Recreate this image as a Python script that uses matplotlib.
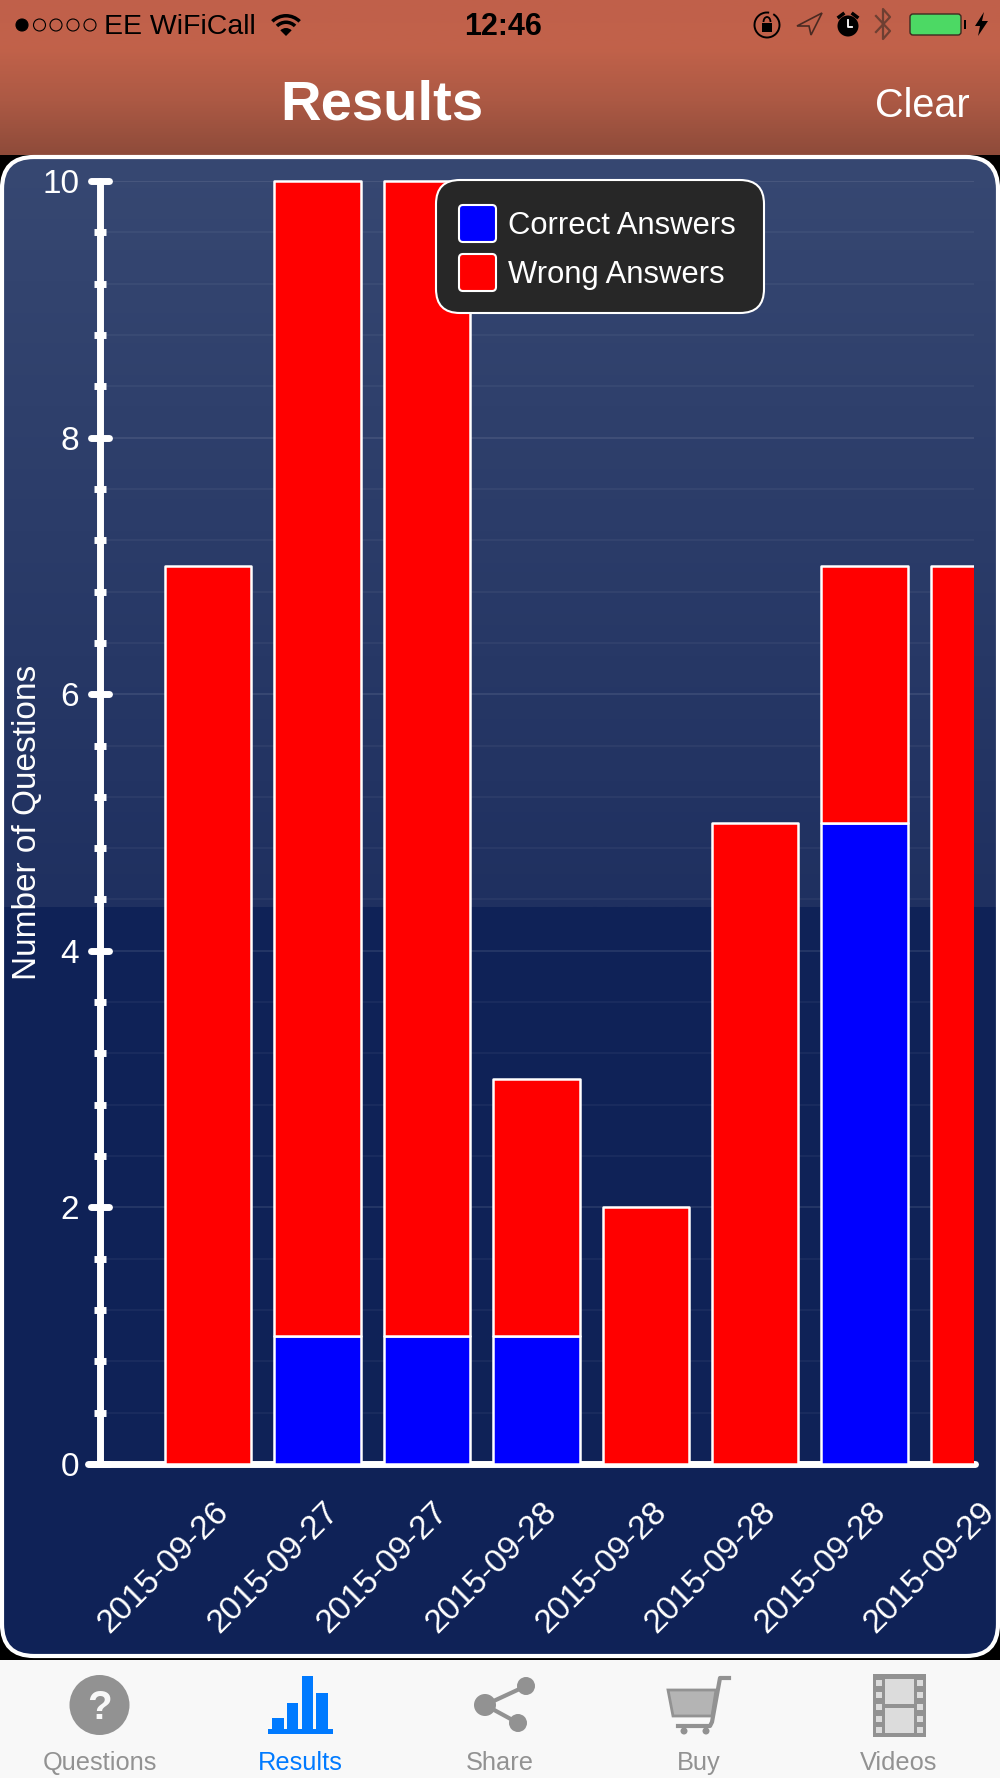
#!/usr/bin/env python3

import matplotlib
matplotlib.use('Agg')
import matplotlib.pyplot as plt
import numpy as np
from matplotlib.colors import LinearSegmentedColormap
from matplotlib.markers import MarkerStyle
from matplotlib.patches import Circle, Ellipse, FancyBboxPatch, Polygon, Rectangle, Wedge, Arc
from matplotlib.transforms import Bbox, ScaledTranslation, TransformedBbox

plt.rcParams['font.family'] = ['Liberation Sans', 'DejaVu Sans']

# Chart data
dates = ['2015-09-26', '2015-09-27', '2015-09-27', '2015-09-28',
         '2015-09-28', '2015-09-28', '2015-09-28', '2015-09-29']
correct = [0, 1, 1, 1, 0, 0, 5, 0]
wrong = [7, 9, 9, 2, 2, 5, 2, 7]
major_ticks = [0, 2, 4, 6, 8, 10]
minor_ticks = [0.4, 0.8, 1.2, 1.6, 2.4, 2.8, 3.2, 3.6, 4.4, 4.8, 5.2, 5.6,
               6.4, 6.8, 7.2, 7.6, 8.4, 8.8, 9.2, 9.6]
tab_labels = ['Questions', 'Results', 'Share', 'Buy', 'Videos']

W, H = 1000, 1778
GREY = '#929292'
BLUE_TAB = '#007aff'

fig = plt.figure(figsize=(W / 100, H / 100), dpi=100, facecolor='black')

# Full-figure axes in pixel coordinates for the phone screen around the chart
bg = fig.add_axes([0, 0, 1, 1])
bg.set_xlim(0, W)
bg.set_ylim(H, 0)
bg.axis('off')

# Navigation bar
nav_cmap = LinearSegmentedColormap.from_list(
    'nav', [(0, '#c0604a'), (0.3, '#c2624a'), (0.65, '#ac5944'), (1, '#8e4b3a')])
bg.imshow(np.linspace(0, 1, 256).reshape(-1, 1), cmap=nav_cmap, aspect='auto',
          extent=(0, W, 155, 0), zorder=1)

# Rounded chart panel, lighter gradient above the flat lower part
panel = FancyBboxPatch((2, 157), W - 4, 1499, boxstyle='round,pad=0,rounding_size=32',
                       facecolor='none', edgecolor='white', linewidth=3, zorder=3)
bg.add_patch(panel)
panel_cmap = LinearSegmentedColormap.from_list('panel', ['#374872', '#1f3060'])
grad = bg.imshow(np.linspace(0, 1, 256).reshape(-1, 1), cmap=panel_cmap, aspect='auto',
                 extent=(0, W, 907, 155), zorder=2)
grad.set_clip_path(panel)
flat = bg.add_patch(Rectangle((0, 907), W, 755, facecolor='#0f2257', edgecolor='none', zorder=2))
flat.set_clip_path(panel)
bg.set_xlim(0, W)
bg.set_ylim(H, 0)

# Tab bar
bg.add_patch(Rectangle((0, 1660), W, 118, facecolor='#f8f8f8', edgecolor='none', zorder=2))

# Status bar
for i, x in enumerate([22, 39.5, 56, 73, 90]):
    bg.add_patch(Circle((x, 25), 6, facecolor='black' if i == 0 else 'none',
                        edgecolor='black', linewidth=0.8, zorder=4))
bg.text(104, 27, 'EE WiFiCall', color='black', fontsize=20.5, va='center', ha='left', zorder=4)
bg.text(503, 27, '12:46', color='black', fontsize=22, fontweight='bold', va='center', ha='center', zorder=4)

# Wifi symbol
for r in [21, 14.5]:
    bg.add_patch(Wedge((286, 35), r, 225, 315, width=3.5, facecolor='black', zorder=4))
bg.add_patch(Wedge((286, 36), 8, 225, 315, facecolor='black', zorder=4))

# Rotation lock, location arrow, alarm, bluetooth, battery, bolt
bg.add_patch(Arc((767, 25), 25, 25, theta1=-60, theta2=280, color='black', linewidth=1.4, zorder=4))
bg.add_patch(Rectangle((762, 23), 10, 9, facecolor='black', zorder=4))
bg.add_patch(Arc((767, 22), 7, 10, theta1=180, theta2=360, color='black', linewidth=1.3, zorder=4))
bg.add_patch(Polygon([[822, 13], [797, 26], [809, 26], [811, 35]], closed=True, facecolor='none',
                     edgecolor='#4a2a22', linewidth=1.2, zorder=4))
bg.add_patch(Circle((848, 26), 10.5, facecolor='black', zorder=4))
bg.plot([848, 848, 852], [20, 27, 27], color='white', linewidth=1.3, zorder=5)
bg.plot([839, 843], [17, 14], color='black', linewidth=2.5, zorder=4)
bg.plot([853, 857], [14, 17], color='black', linewidth=2.5, zorder=4)
bg.plot([876, 890, 883, 883, 890, 876], [16, 31, 39, 9, 17, 32], color='#6e3f32', linewidth=1.6, zorder=4)
bg.add_patch(FancyBboxPatch((910, 14), 51, 21, boxstyle='round,pad=0,rounding_size=3',
                            facecolor='#4cd964', edgecolor='#3c2a20', linewidth=1, zorder=4))
bg.add_patch(Rectangle((964, 20), 2, 9, facecolor='black', zorder=4))
bg.add_patch(Polygon([[984, 12], [975, 26], [980, 26], [978, 36], [988, 21], [982, 21]],
                     closed=True, facecolor='black', zorder=4))

# Navigation title and button
bg.text(382, 106, 'Results', color='white', fontsize=40.5, fontweight='bold', va='center', ha='center', zorder=4)
bg.text(922, 106, 'Clear', color='white', fontsize=28.5, va='center', ha='center', zorder=4)

# Tab icons
bg.add_patch(Ellipse((99.5, 1705), 60, 60, facecolor=GREY, zorder=4))
bg.text(99.5, 1708, '?', color='#f8f8f8', fontsize=29, fontweight='bold', va='center', ha='center', zorder=5)

bg.add_patch(Rectangle((268, 1729), 65, 5, facecolor=BLUE_TAB, zorder=4))
for x0, x1, top in [(272, 284, 1718), (287, 298, 1703), (302, 313, 1676), (316, 328, 1693)]:
    bg.add_patch(Rectangle((x0, top), x1 - x0, 1730 - top, facecolor=BLUE_TAB, zorder=4))

share = [(526, 1686), (485, 1705), (518, 1723)]
bg.plot([share[0][0], share[1][0], share[2][0]], [share[0][1], share[1][1], share[2][1]],
        color=GREY, linewidth=3, zorder=4)
for i, p in enumerate(share):
    bg.add_patch(Circle(p, 11 if i == 1 else 9, facecolor=GREY, zorder=4))

bg.add_patch(Polygon([[668, 1690], [716, 1690], [712, 1716], [673, 1716]], closed=True,
                     facecolor='#b4b4b4', edgecolor=GREY, linewidth=2, zorder=4))
bg.plot([729, 720, 712, 710, 678], [1678, 1678, 1722, 1726, 1726], color=GREY, linewidth=3, zorder=4)
bg.add_patch(Circle((684, 1731), 3.5, facecolor=GREY, zorder=4))
bg.add_patch(Circle((706, 1731), 3.5, facecolor=GREY, zorder=4))

bg.add_patch(Rectangle((873, 1674), 53, 63, facecolor=GREY, zorder=4))
bg.add_patch(Rectangle((885, 1679), 29, 25, facecolor='#dcdcdc', zorder=5))
bg.add_patch(Rectangle((885, 1708), 29, 25, facecolor='#dcdcdc', zorder=5))
for y in [1680, 1692, 1704, 1716, 1727]:
    bg.add_patch(Rectangle((876, y), 6, 6, facecolor='#dcdcdc', zorder=5))
    bg.add_patch(Rectangle((917, y), 6, 6, facecolor='#dcdcdc', zorder=5))

# Tab labels
for i, (x, label) in enumerate(zip([99.5, 300, 499.5, 699, 899], tab_labels)):
    bg.text(x, 1763, label, color=BLUE_TAB if i == 1 else GREY, fontsize=18.3,
            va='center', ha='center', zorder=4)

# Y axis title
bg.text(28, 822, 'Number of Questions', color='white', fontsize=24, rotation=90,
        va='center', ha='center', zorder=4)

# The chart itself
ax = fig.add_axes([100 / W, 1 - 1464 / H, (974 - 100) / W, (1464 - 181) / H])
ax.patch.set_alpha(0)
ax.set_xlim(0.012, 8)
ax.set_ylim(0, 10)

x = np.arange(1, len(dates) + 1)
bars_correct = ax.bar(x, correct, width=0.79, color='#0000ff', edgecolor='white', linewidth=1.8, zorder=3)
bars_wrong = ax.bar(x, wrong, width=0.79, bottom=correct, color='#ff0000', edgecolor='white', linewidth=1.8, zorder=3)
clip = TransformedBbox(Bbox([[0, -0.2], [8, 10.2]]), ax.transData)
for b in list(bars_correct) + list(bars_wrong):
    b.set_clip_box(clip)
    b.set_joinstyle('round')
    if b.get_height() == 0:
        b.set_visible(False)

ax.set_yticks(major_ticks)
ax.set_yticks(minor_ticks, minor=True)
ax.set_yticklabels([str(v) for v in major_ticks])
ax.set_xticks(x)
ax.set_xticklabels(dates, rotation=45, ha='right', va='center', rotation_mode='anchor')

ax.grid(True, axis='y', which='major', color='white', alpha=0.1, linewidth=1.2, zorder=0)
ax.grid(True, axis='y', which='minor', color='white', alpha=0.05, linewidth=1.2, zorder=0)
ax.set_axisbelow(True)

ax.tick_params(axis='y', which='major', direction='inout', length=13, width=5, color='white',
               labelcolor='white', labelsize=24, pad=8.5)
ax.tick_params(axis='y', which='minor', direction='inout', length=8.5, width=5, color='white')
ax.tick_params(axis='x', length=0, labelcolor='white', labelsize=24, pad=0)

for tick in ax.yaxis.get_major_ticks():
    tick.tick1line.set_marker(MarkerStyle('_', capstyle='round'))

offset = ScaledTranslation(16 / 100, -43 / 100, fig.dpi_scale_trans)
for label in ax.get_xticklabels():
    label.set_transform(label.get_transform() + offset)

for side in ['top', 'right']:
    ax.spines[side].set_visible(False)
for side in ['left', 'bottom']:
    ax.spines[side].set_color('white')
    ax.spines[side].set_linewidth(5)
    ax.spines[side].set_capstyle('round')
ax.spines['bottom'].set_bounds(-0.1, 8.01)

# Legend box drawn on top of the bars
top = fig.add_axes([0, 0, 1, 1])
top.set_xlim(0, W)
top.set_ylim(H, 0)
top.axis('off')
top.patch.set_alpha(0)
top.add_patch(FancyBboxPatch((436, 180), 328, 133, boxstyle='round,pad=0,rounding_size=24',
                             facecolor='#272727', edgecolor='white', linewidth=1.5))
for y0, color, label in [(205, '#0000ff', 'Correct Answers'), (254, '#ff0000', 'Wrong Answers')]:
    top.add_patch(FancyBboxPatch((459, y0), 37, 37, boxstyle='round,pad=0,rounding_size=4',
                                 facecolor=color, edgecolor='white', linewidth=1.5))
    top.text(508, y0 + 21, label, color='white', fontsize=22.3, va='center', ha='left')

fig.savefig('out.png', dpi=100, facecolor='black')
